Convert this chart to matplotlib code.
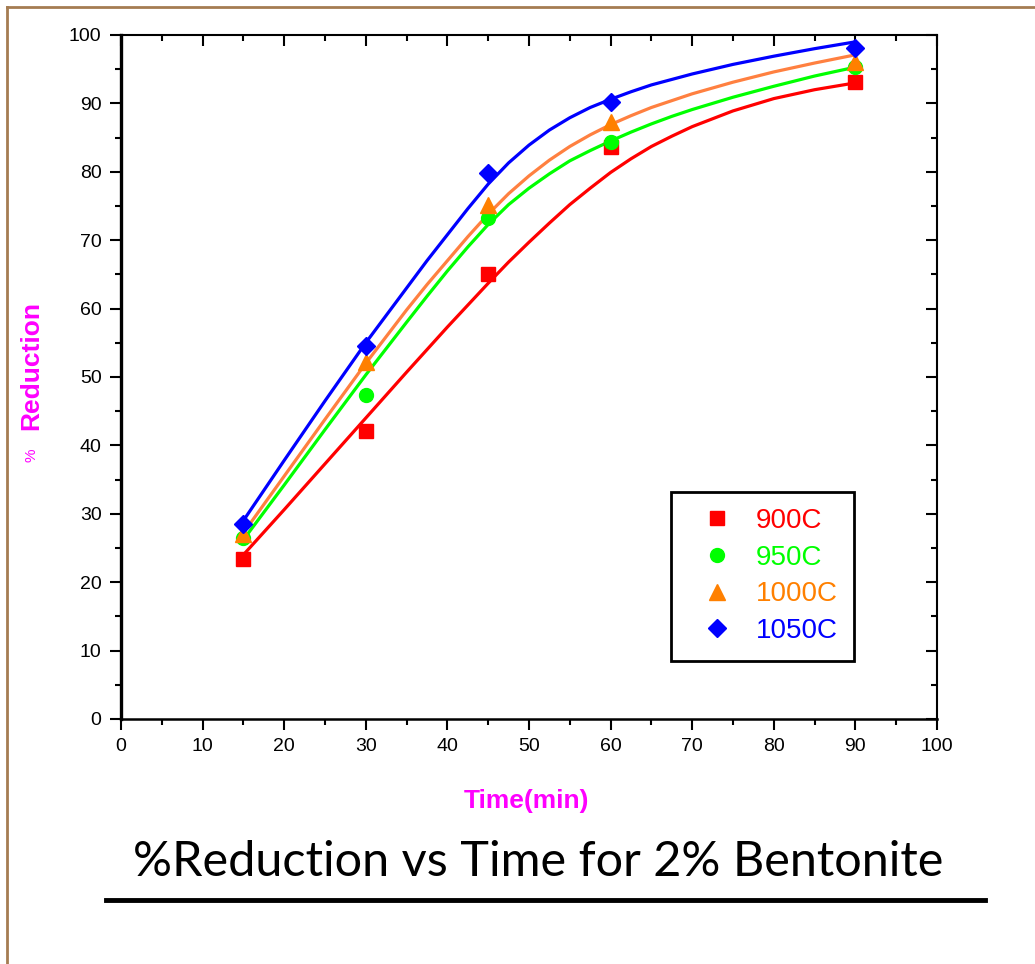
import matplotlib.pyplot as plt
from matplotlib.lines import Line2D
from matplotlib.ticker import MultipleLocator

# measured points
time_pts = [15, 30, 45, 60, 90]
red_pts = [23.4, 42.1, 65.1, 83.6, 93.1]
green_pts = [26.5, 47.4, 73.2, 84.3, 95.3]
orange_pts = [27.0, 52.2, 75.1, 87.3, 96.0]
blue_pts = [28.5, 54.5, 79.8, 90.2, 98.1]

# fitted curves
fit_t = [15, 20, 25, 30, 35, 37.5, 40, 42.5, 45, 47.5, 50, 52.5, 55, 57.5, 60,
         62.5, 65, 67.5, 70, 75, 80, 85, 90]
red_fit = [24.0, 30.6, 37.3, 44.0, 50.7, 54.0, 57.3, 60.5, 63.7, 66.8, 69.7, 72.5, 75.2, 77.6, 79.9,
           81.9, 83.7, 85.2, 86.6, 88.9, 90.7, 92.0, 93.0]
green_fit = [26.2, 34.2, 42.3, 50.3, 58.0, 61.8, 65.5, 69.0, 72.3, 75.2, 77.6, 79.7, 81.6, 83.1, 84.5,
             85.8, 87.0, 88.1, 89.1, 90.9, 92.5, 94.0, 95.3]
orange_fit = [27.2, 35.5, 43.8, 52.0, 59.8, 63.5, 67.0, 70.5, 73.8, 76.8, 79.4, 81.7, 83.7, 85.4, 86.9,
              88.2, 89.4, 90.4, 91.4, 93.1, 94.6, 95.9, 97.1]
blue_fit = [29.0, 37.8, 46.5, 55.0, 63.0, 67.0, 70.8, 74.6, 78.2, 81.3, 83.9, 86.1, 87.9, 89.4, 90.6,
            91.7, 92.7, 93.5, 94.3, 95.7, 96.9, 98.0, 99.0]

labels = ['900C', '950C', '1000C', '1050C']

fig = plt.figure(figsize=(10.35, 9.64), dpi=100)
ax = fig.add_axes([0.1169, 0.2542, 0.7884, 0.7095])

series = [
    (red_pts, red_fit, '#ff0000', '#ff0000', 's', 10),
    (green_pts, green_fit, '#00ff00', '#00ff00', 'o', 10),
    (orange_pts, orange_fit, '#ff8000', '#ff8040', '^', 11),
    (blue_pts, blue_fit, '#0000ff', '#0000ff', 'D', 9.5),
]

handles = []
for (pts, fit, mcol, lcol, mk, ms), lab in zip(series, labels):
    ax.plot(fit_t, fit, color=lcol, lw=2.3, zorder=2, solid_joinstyle='round')
    ax.plot(time_pts, pts, linestyle='none', marker=mk, ms=ms, color=mcol,
            markeredgecolor=mcol, zorder=3)
    handles.append(Line2D([], [], linestyle='none', marker=mk, ms=ms, color=mcol,
                          markeredgecolor=mcol, label=lab))

ax.set_xlim(0, 100)
ax.set_ylim(0, 100)
ax.xaxis.set_major_locator(MultipleLocator(10))
ax.xaxis.set_minor_locator(MultipleLocator(5))
ax.yaxis.set_major_locator(MultipleLocator(10))
ax.yaxis.set_minor_locator(MultipleLocator(5))

for lbl in ax.get_xticklabels() + ax.get_yticklabels():
    lbl.set_fontfamily('Liberation Sans')
    lbl.set_fontsize(14)

ax.tick_params(which='major', direction='out', length=8, width=1.5, pad=6,
               bottom=True, left=True, top=False, right=False)
ax.tick_params(which='minor', direction='out', length=4, width=1.5,
               bottom=True, left=True, top=False, right=False)

# inward ticks on top and right
ax_top = ax.secondary_xaxis('top')
ax_top.xaxis.set_major_locator(MultipleLocator(10))
ax_top.xaxis.set_minor_locator(MultipleLocator(5))
ax_top.tick_params(which='major', direction='in', length=8, width=1.5, labeltop=False)
ax_top.tick_params(which='minor', direction='in', length=4, width=1.5)
ax_top.spines['top'].set_visible(False)
ax_right = ax.secondary_yaxis('right')
ax_right.yaxis.set_major_locator(MultipleLocator(10))
ax_right.yaxis.set_minor_locator(MultipleLocator(5))
ax_right.tick_params(which='major', direction='in', length=8, width=1.5, labelright=False)
ax_right.tick_params(which='minor', direction='in', length=4, width=1.5)
ax_right.spines['right'].set_visible(False)

ax.spines['left'].set_linewidth(2.4)
ax.spines['bottom'].set_linewidth(1.8)
ax.spines['top'].set_linewidth(1.5)
ax.spines['right'].set_linewidth(1.5)

# axis labels
fig.text(0.509, 0.169, 'Time(min)', color='#ff00ff', fontsize=19, fontweight='bold',
         family='Liberation Sans', ha='center', va='center')
fig.text(0.030, 0.621, 'Reduction', color='#ff00ff', fontsize=19, fontweight='bold',
         family='Liberation Sans', rotation=90, ha='center', va='center')
fig.text(0.030, 0.528, '%', color='#ff00ff', fontsize=11,
         family='Liberation Sans', rotation=90, ha='center', va='center')

leg = ax.legend(handles=handles, loc='center', bbox_to_anchor=(0.786, 0.209),
                frameon=True, fancybox=False, edgecolor='black', framealpha=1,
                prop={'family': 'Liberation Sans', 'size': 20},
                handletextpad=0.35, labelspacing=0.38, borderpad=0.6,
                handlelength=2.1, borderaxespad=0)
leg.get_frame().set_linewidth(2)
for txt, (_, _, mcol, _, _, _) in zip(leg.get_texts(), series):
    txt.set_color(mcol)

# title below the chart
fig.text(0.520, 0.106, '%Reduction vs Time for 2% Bentonite', fontsize=35,
         family='Lato', ha='center', va='center')
fig.add_artist(Line2D([0.102, 0.952], [0.066, 0.066], color='black', lw=3.5))

# outer frame
frame_col = '#a57c52'
fig.add_artist(Line2D([0.0065, 0.0065], [0.0, 0.993], color=frame_col, lw=2))
fig.add_artist(Line2D([0.0065, 1.0], [0.993, 0.993], color=frame_col, lw=2))

fig.savefig('out.png', dpi=100)
